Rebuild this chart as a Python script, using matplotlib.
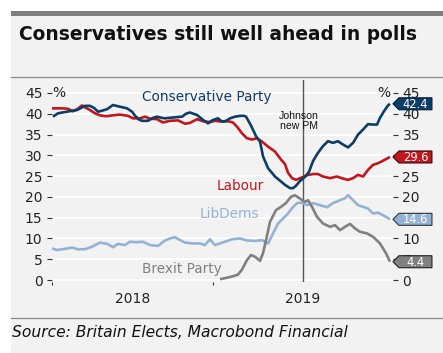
import numpy as np
import matplotlib
matplotlib.use("Agg")
import matplotlib.pyplot as plt
import matplotlib.transforms as mtransforms
from matplotlib.patches import Rectangle, Polygon
from matplotlib.lines import Line2D

# ---------------- data (time in decimal years) ----------------
con_t = [2018.006, 2018.037, 2018.093, 2018.155, 2018.205, 2018.236, 2018.261, 2018.286, 2018.317, 2018.342,
         2018.379, 2018.422, 2018.466, 2018.497, 2018.516, 2018.540, 2018.559, 2018.596, 2018.627, 2018.652,
         2018.683, 2018.702, 2018.752, 2018.808, 2018.832, 2018.857, 2018.901, 2018.938, 2018.969, 2019.000,
         2019.031, 2019.056, 2019.081, 2019.106, 2019.137, 2019.168, 2019.193, 2019.205, 2019.230, 2019.248,
         2019.267, 2019.292, 2019.311, 2019.342, 2019.385, 2019.416, 2019.447, 2019.478, 2019.497, 2019.516,
         2019.540, 2019.571, 2019.596, 2019.621, 2019.652, 2019.683, 2019.714, 2019.745, 2019.776, 2019.807,
         2019.839, 2019.870, 2019.901, 2019.932, 2019.963, 2019.994, 2020.019, 2020.037, 2020.062, 2020.087,
         2020.099]
con_v = [39.3, 40.1, 40.5, 40.9, 41.9, 41.9, 41.4, 40.5, 40.8, 41.1,
         42.1, 41.7, 41.3, 40.5, 39.5, 38.6, 38.3, 38.3, 39.0, 39.3,
         39.0, 38.9, 39.1, 39.3, 40.0, 40.3, 39.7, 38.5, 37.7, 38.5,
         38.9, 38.1, 38.3, 38.9, 39.3, 39.5, 39.5, 39.3, 37.6, 36.2,
         34.6, 33.3, 29.7, 26.9, 24.9, 23.9, 22.9, 22.1, 22.1, 22.7,
         23.8, 24.8, 26.0, 28.6, 30.6, 32.2, 33.4, 33.0, 33.4, 32.6,
         31.9, 33.0, 35.0, 36.2, 37.5, 37.4, 37.4, 39.0, 40.6, 42.0,
         42.4]

lab_t = [2018.000, 2018.068, 2018.099, 2018.130, 2018.161, 2018.186, 2018.211, 2018.236, 2018.267, 2018.298,
         2018.335, 2018.373, 2018.422, 2018.472, 2018.503, 2018.547, 2018.578, 2018.609, 2018.652, 2018.689,
         2018.733, 2018.783, 2018.826, 2018.857, 2018.901, 2018.938, 2018.981, 2019.012, 2019.056, 2019.093,
         2019.124, 2019.149, 2019.180, 2019.211, 2019.242, 2019.273, 2019.304, 2019.342, 2019.385, 2019.422,
         2019.447, 2019.466, 2019.491, 2019.516, 2019.553, 2019.584, 2019.621, 2019.652, 2019.683, 2019.727,
         2019.770, 2019.807, 2019.839, 2019.870, 2019.901, 2019.932, 2019.963, 2019.994, 2020.025, 2020.056,
         2020.099]
lab_v = [41.3, 41.3, 41.2, 40.6, 41.2, 42.0, 41.4, 40.9, 40.1, 39.6,
         39.4, 39.6, 39.8, 39.5, 38.9, 38.9, 39.3, 38.8, 38.7, 37.9,
         38.3, 38.4, 37.6, 37.8, 38.7, 38.2, 38.0, 38.3, 38.1, 38.2,
         37.9, 36.9, 35.3, 34.1, 33.8, 34.1, 33.3, 32.1, 30.9, 29.0,
         27.9, 25.8, 24.5, 24.1, 24.7, 25.2, 25.5, 25.5, 24.9, 24.5,
         24.9, 24.4, 24.1, 24.5, 25.3, 24.9, 26.5, 27.7, 28.1, 28.7,
         29.6]

ld_t = [2018.000, 2018.031, 2018.081, 2018.124, 2018.161, 2018.205, 2018.248, 2018.298, 2018.342, 2018.379,
        2018.410, 2018.453, 2018.484, 2018.528, 2018.565, 2018.609, 2018.658, 2018.702, 2018.733, 2018.764,
        2018.795, 2018.826, 2018.870, 2018.919, 2018.950, 2018.981, 2019.012, 2019.043, 2019.075, 2019.118,
        2019.168, 2019.211, 2019.261, 2019.304, 2019.342, 2019.373, 2019.404, 2019.435, 2019.466, 2019.491,
        2019.522, 2019.553, 2019.584, 2019.621, 2019.665, 2019.708, 2019.745, 2019.789, 2019.820, 2019.839,
        2019.870, 2019.901, 2019.932, 2019.963, 2019.994, 2020.025, 2020.056, 2020.099]
ld_v = [7.6, 7.2, 7.5, 7.8, 7.4, 7.4, 8.0, 9.0, 8.7, 7.9,
        8.7, 8.4, 9.2, 9.1, 9.2, 8.4, 8.2, 9.5, 10.0, 10.3,
        9.6, 9.0, 8.8, 8.8, 8.4, 9.8, 8.4, 8.8, 9.2, 9.8,
        10.0, 9.5, 9.4, 9.6, 8.8, 11.2, 13.6, 14.8, 16.0, 17.3,
        18.5, 18.6, 18.0, 18.5, 18.0, 17.5, 18.5, 19.2, 19.7, 20.4,
        19.2, 18.0, 17.6, 17.2, 16.0, 16.2, 15.6, 14.6]

bxp_t = [2019.043, 2019.081, 2019.124, 2019.155, 2019.180, 2019.211, 2019.236, 2019.261, 2019.292, 2019.311,
         2019.329, 2019.354, 2019.391, 2019.422, 2019.453, 2019.484, 2019.509, 2019.540, 2019.571, 2019.590,
         2019.615, 2019.646, 2019.683, 2019.727, 2019.758, 2019.789, 2019.820, 2019.851, 2019.882, 2019.913,
         2019.957, 2019.994, 2020.037, 2020.075, 2020.099]
bxp_v = [0.2, 0.5, 0.9, 1.3, 2.5, 4.8, 6.0, 5.6, 4.6, 6.5,
         9.5, 14.0, 16.8, 17.6, 18.5, 20.0, 20.4, 19.6, 18.8, 19.2,
         17.6, 15.2, 13.6, 12.8, 13.2, 12.0, 12.8, 13.5, 12.4, 11.6,
         11.2, 10.4, 8.8, 6.4, 4.4]

johnson_t = 2019.559
y_ticks = [0, 5, 10, 15, 20, 25, 30, 35, 40, 45]
year_ticks = [2018, 2019]
year_labels = ["2018", "2019"]
year_label_pos = [2018.5, 2019.559]

# ---------------- figure ----------------
W, H = 443, 353
fig = plt.figure(figsize=(W / 100, H / 100), dpi=100)
fig.patch.set_facecolor("white")
BG = "#f2f2f2"
fig.patches.append(Rectangle((11 / W, 0), 1 - 11 / W, 1 - 16 / H, transform=fig.transFigure,
                             facecolor=BG, edgecolor="none", zorder=-10))
fig.patches.append(Rectangle((11 / W, 1 - 16 / H), 1 - 11 / W, 5 / H, transform=fig.transFigure,
                             facecolor="#7f7f7f", edgecolor="none", zorder=-10))
fig.lines.append(Line2D([11 / W, 1], [1 - 77 / H] * 2, transform=fig.transFigure, color="#8a8a8a", lw=0.9,
                        zorder=-5))
fig.lines.append(Line2D([11 / W, 1], [1 - 318 / H] * 2, transform=fig.transFigure, color="#8a8a8a", lw=0.9,
                        zorder=-5))

fig.text(19 / W, 1 - 40.5 / H, "Conservatives still well ahead in polls", fontsize=13.4, fontweight="bold",
         color="#111111", ha="left", va="baseline", family="DejaVu Sans")
fig.text(12 / W, 1 - 337 / H, "Source: Britain Elects, Macrobond Financial", fontsize=11.2, style="italic",
         color="#111111", ha="left", va="baseline", family="DejaVu Sans")

ax = fig.add_axes([52 / W, 1 - 282 / H, (393 - 52) / W, (282 - 80) / H])
ax.set_facecolor("none")
for s in ax.spines.values():
    s.set_visible(False)

ax.set_xlim(2018.0, 2018.0 + 341 / 161)
ax.set_ylim(-0.48, 48.12)

ax.set_yticks(y_ticks)
ax.set_yticklabels([str(v) for v in y_ticks])
ax.grid(axis="y", color="white", lw=1.4, zorder=0)
ax.tick_params(axis="y", left=True, right=True, labelleft=True, labelright=True, length=3.6, width=0.8,
               color="#333333", pad=3.2, labelsize=10, labelcolor="#222222")

ax.set_xticks(year_ticks)
ax.set_xticklabels([])
ax.set_xticks(year_label_pos, minor=True)
ax.set_xticklabels(year_labels, minor=True)
ax.tick_params(axis="x", which="major", length=2.5, width=0.8, color="#333333")
ax.tick_params(axis="x", which="minor", length=0, pad=7.5, labelsize=10, labelcolor="#222222")

C_CON, C_LAB, C_LD, C_BXP = "#0c3d66", "#c2161f", "#93b3d6", "#808080"
LW = 1.9
ax.plot(ld_t, ld_v, color=C_LD, lw=LW, zorder=3, solid_capstyle="butt")
ax.plot(bxp_t, bxp_v, color=C_BXP, lw=LW, zorder=3, solid_capstyle="butt")
ax.plot(lab_t, lab_v, color=C_LAB, lw=LW, zorder=3, solid_capstyle="butt")
ax.plot(con_t, con_v, color=C_CON, lw=LW, zorder=4, solid_capstyle="butt")

ax.axvline(johnson_t, color="#555555", lw=1.0, zorder=2)
ax.text(johnson_t - 0.025, 38.3, "Johnson\nnew PM", fontsize=7.6, ha="center", va="center",
        family="Liberation Sans", color="#111111", linespacing=1.0, zorder=5)

ax.text(2018.559, 44.0, "Conservative Party", color=C_CON, fontsize=9.8, ha="left", va="center")
ax.text(2019.025, 22.6, "Labour", color=C_LAB, fontsize=9.8, ha="left", va="center")
ax.text(2018.919, 15.9, "LibDems", color=C_LD, fontsize=9.8, ha="left", va="center")
ax.text(2018.559, 2.6, "Brexit Party", color=C_BXP, fontsize=9.8, ha="left", va="center")

ax.text(2018.043, 45, "%", fontsize=10, ha="center", va="center", color="#222222")
ax.text(2020.062, 45, "%", fontsize=10, ha="center", va="center", color="#222222")


def tag(t, v, fill, edge):
    tr = fig.dpi_scale_trans + mtransforms.ScaledTranslation(t, v, ax.transData)
    pts = np.array([(3, 0), (9, 6), (42, 6), (42, -6), (9, -6)]) / 100.0
    poly = Polygon(pts, closed=True, transform=tr, facecolor=fill, edgecolor=edge, lw=0.8,
                   clip_on=False, zorder=6)
    ax.add_artist(poly)
    ax.text(25.5 / 100, -0.3 / 100, f"{v:.1f}", transform=tr, color="white", fontsize=8.3,
            ha="center", va="center", zorder=7, clip_on=False)


tag(con_t[-1], con_v[-1], C_CON, "#0a1f33")
tag(lab_t[-1], lab_v[-1], C_LAB, "#3a0a0a")
tag(ld_t[-1], ld_v[-1], C_LD, "#333333")
tag(bxp_t[-1], bxp_v[-1], C_BXP, "#222222")

fig.savefig("out.png", dpi=100, facecolor=fig.get_facecolor())
